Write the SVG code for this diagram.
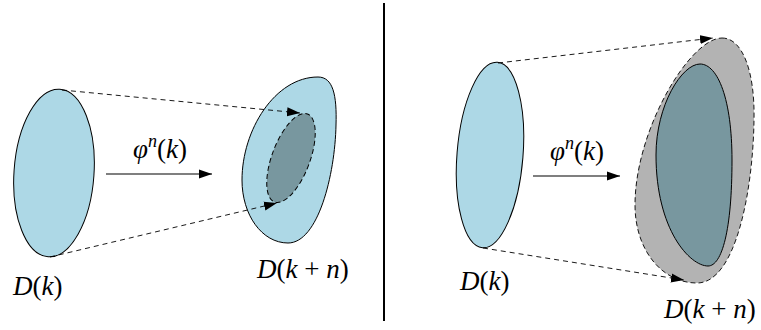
<svg xmlns="http://www.w3.org/2000/svg" width="761" height="330" viewBox="0 0 761 330">
<style>
.lb{fill:#ADD8E6;stroke:#000;stroke-width:1}
.dk{fill:#78979F;stroke:#000;stroke-width:1}
.dash{fill:none;stroke:#000;stroke-width:0.9;stroke-dasharray:5,4}
.arr{fill:none;stroke:#000;stroke-width:1.1}
text{font-family:"Liberation Serif","DejaVu Serif",serif;font-size:27px;fill:#000}
.i{font-style:italic}
</style>
<defs>
<marker id="ah" markerUnits="userSpaceOnUse" markerWidth="14" markerHeight="10" refX="13" refY="5" orient="auto">
<path d="M0,0.5 L13,5 L0,9.5 Z" fill="#000"/>
</marker>
</defs>
<g id="divider"><line x1="384" y1="3" x2="384" y2="321" stroke="#000" stroke-width="2"/></g>
<g id="left-Dk"><ellipse class="lb" cx="54" cy="173" rx="40" ry="84" transform="rotate(4 54 173)"/></g>
<g id="left-Dkn">
<path class="lb" d="M318,77 C333,77 337,95 336,125 C335,175 318,243 288,243 C262,243 242,215 242,180 C242,130 275,77 318,77 Z"/>
<ellipse class="dk" cx="291" cy="158" rx="19" ry="47" transform="rotate(20.5 291 158)" stroke-dasharray="5,3"/>
</g>
<g id="right-Dk"><ellipse class="lb" cx="490" cy="155" rx="33" ry="93" transform="rotate(4.6 490 155)"/></g>
<g id="right-Dkn">
<path d="M722,38 C742,38 755,70 754,120 C753,190 736,283 697,283 C662,283 635,250 635,205 C635,130 690,38 722,38 Z" fill="#B3B3B3" stroke="#000" stroke-width="0.9" stroke-dasharray="5,3"/>
<path class="dk" d="M700,64 C718,64 732,100 732,160 C732,230 722,266 708,266 C690,266 656,230 656,155 C656,105 682,64 700,64 Z"/>
</g>
<g id="connectors">
<line class="dash" x1="62" y1="90" x2="300" y2="113" marker-end="url(#ah)"/>
<line class="dash" x1="50" y1="257" x2="277" y2="203" marker-end="url(#ah)"/>
<line class="arr" x1="106" y1="174" x2="212" y2="174" marker-end="url(#ah)"/>
<line class="dash" x1="498" y1="63" x2="713" y2="38" marker-end="url(#ah)"/>
<line class="dash" x1="483" y1="248" x2="684" y2="280" marker-end="url(#ah)"/>
<line class="arr" x1="533" y1="176" x2="620" y2="176" marker-end="url(#ah)"/>
</g>
<g id="labels">
<text x="133" y="158"><tspan class="i">φ</tspan><tspan class="i" font-size="18" dy="-11">n</tspan><tspan dy="11">(</tspan><tspan class="i">k</tspan>)</text>
<text x="550" y="160"><tspan class="i">φ</tspan><tspan class="i" font-size="18" dy="-11">n</tspan><tspan dy="11">(</tspan><tspan class="i">k</tspan>)</text>
<text x="13" y="295"><tspan class="i">D</tspan>(<tspan class="i">k</tspan>)</text>
<text x="257" y="278"><tspan class="i">D</tspan>(<tspan class="i">k</tspan> + <tspan class="i">n</tspan>)</text>
<text x="460" y="290"><tspan class="i">D</tspan>(<tspan class="i">k</tspan>)</text>
<text x="664" y="318"><tspan class="i">D</tspan>(<tspan class="i">k</tspan> + <tspan class="i">n</tspan>)</text>
</g>
</svg>
